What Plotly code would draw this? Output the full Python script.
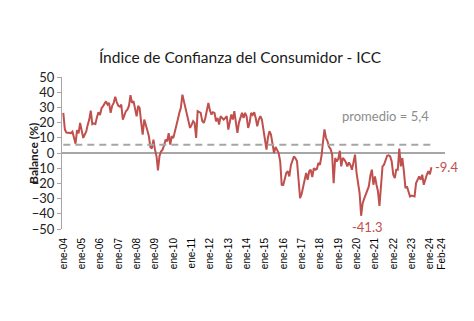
import plotly.graph_objects as go
import pandas as pd

# Monthly ICC balance (%), Jan 2004 - Feb 2024
icc = [
    # 2004
    26.4, 15.5, 13.5, 13.2, 13.0, 13.1, 14.0, 10.5, 6.1, 15.0, 13.0, 19.8,
    # 2005
    14.5, 9.9, 12.0, 14.0, 18.5, 22.0, 27.9, 19.0, 19.5, 19.0, 23.5, 26.8,
    # 2006
    25.0, 29.5, 30.7, 32.0, 34.0, 31.8, 33.0, 26.4, 31.0, 33.0, 37.0, 33.5,
    # 2007
    31.0, 30.5, 31.8, 22.0, 25.0, 27.5, 28.5, 31.0, 38.0, 33.0, 34.0, 30.0,
    # 2008
    24.1, 31.0, 29.5, 20.0, 12.1, 22.0, 19.0, 15.0, 11.0, 4.0, 3.0, 8.8,
    # 2009
    2.2, -2.2, -11.4, -2.0, 1.0, 2.2, 5.0, 8.8, 7.7, 13.0, 5.5, 11.0,
    # 2010
    9.9, 13.5, 17.6, 22.0, 26.4, 29.7, 38.4, 34.0, 30.0, 26.4, 20.0, 16.5,
    # 2011
    18.5, 20.9, 19.8, 9.9, 27.5, 27.0, 26.4, 21.0, 19.8, 23.0, 28.6, 33.0,
    # 2012
    28.0, 25.3, 26.8, 26.4, 20.9, 23.0, 18.7, 24.2, 23.0, 22.0, 23.0, 24.2,
    # 2013
    15.4, 20.0, 25.3, 22.0, 27.5, 20.0, 13.2, 20.0, 24.2, 26.4, 23.0, 26.4,
    # 2014
    24.0, 16.5, 19.8, 26.4, 25.0, 26.8, 23.0, 17.6, 22.0, 24.2, 22.0, 15.4,
    # 2015
    10.0, 2.2, 10.0, 14.3, 12.1, 6.0, 0.0, 4.0, 1.5, 0.0, -5.5, -20.9,
    # 2016
    -21.0, -17.0, -13.2, -12.0, -15.4, -8.0, -5.5, -2.2, -3.5, -5.5, -17.6, -29.7,
    # 2017
    -27.0, -22.0, -17.6, -13.2, -17.6, -12.0, -11.0, -15.8, -9.9, -11.0, -10.5, -6.6,
    # 2018
    -7.7, -2.0, 6.6, 15.5, 10.0, 7.7, 4.0, 2.6, -1.1, -19.8, -3.3, -5.5,
    # 2019
    -4.0, 1.5, -8.8, -3.3, -4.4, -6.0, -8.8, -6.2, -8.0, -11.0, -6.0, -1.1,
    # 2020
    -13.2, -20.0, -26.4, -41.3, -33.0, -30.0, -27.5, -25.0, -22.0, -15.0, -11.0, -20.9,
    # 2021
    -15.4, -20.9, -25.0, -34.8, -22.0, -8.8, -7.7, -4.0, -1.8, -1.5, -2.2, -5.5,
    # 2022
    -14.3, -16.5, -11.0, -11.0, 2.9, -8.8, -3.3, -12.1, -23.1, -22.0, -25.3, -28.6,
    # 2023
    -28.0, -28.6, -28.6, -19.8, -17.6, -15.4, -17.6, -14.3, -20.9, -17.0, -14.3, -12.0,
    # 2024
    -14.0, -9.4,
]
dates = pd.date_range("2004-01-01", periods=len(icc), freq="MS")

promedio = 5.4
tick_vals = [f"{y}-01-01" for y in range(2004, 2025)] + ["2024-09-01"]
tick_text = [f"ene-{y % 100:02d}" for y in range(2004, 2025)] + ["Feb-24"]

min_idx = icc.index(min(icc))

RED = "#C0504D"
GREY = "#A6A6A6"

fig = go.Figure()
fig.add_trace(go.Scatter(
    x=dates, y=icc, mode="lines",
    line=dict(color=RED, width=2), hoverinfo="skip", showlegend=False,
))

fig.add_shape(type="line", xref="x", yref="y",
              x0=dates[0], x1=dates[-1], y0=promedio, y1=promedio,
              line=dict(color=GREY, width=2, dash="7px,5px"))

fig.add_annotation(x=dates[-1], y=icc[-1], xref="x", yref="y",
                   text=f"{icc[-1]:.1f}", showarrow=False, xanchor="left",
                   xshift=2, font=dict(family="Lato", size=13, color=RED))
fig.add_annotation(x=dates[min_idx], y=icc[min_idx], xref="x", yref="y",
                   text=f"{icc[min_idx]:.1f}", showarrow=False, yanchor="top",
                   xshift=6, yshift=-1, font=dict(family="Lato", size=13, color=RED))
fig.add_annotation(x="2021-08-01", y=24.6, xref="x", yref="y",
                   text=f"promedio = {str(promedio).replace('.', ',')}",
                   showarrow=False, xanchor="center", yanchor="middle",
                   font=dict(family="Lato", size=13, color="#8C8C8C"))
fig.add_annotation(x=-0.076, y=0.5, xref="paper", yref="paper",
                   text="<b>Balance (%)</b>", textangle=-90, showarrow=False,
                   xanchor="center", yanchor="middle",
                   font=dict(family="Lato", size=12, color="#1a1a1a"))

fig.update_layout(
    width=474, height=321,
    margin=dict(l=62, r=29, t=77, b=92),
    paper_bgcolor="white", plot_bgcolor="white",
    title=dict(text="Índice de Confianza del Consumidor - ICC",
               x=240 / 474, xref="container", xanchor="center",
               y=1 - 58 / 321, yref="container", yanchor="middle",
               font=dict(family="Lato", size=15.5, color="#1a1a1a")),
    showlegend=False,
)
fig.update_xaxes(
    range=["2003-12-06", "2024-10-28"],
    tickmode="array", tickvals=tick_vals, ticktext=tick_text,
    tickangle=-90, ticks="", ticklabelstandoff=6,
    tickfont=dict(family="Liberation Sans", size=10, color="#000"),
    showgrid=False, showline=False, zeroline=False,
)
fig.update_yaxes(
    range=[-50, 50], dtick=10, tick0=0,
    ticks="outside", ticklen=4, tickcolor=GREY, tickwidth=1,
    showline=True, linecolor=GREY, linewidth=1,
    showgrid=False, zeroline=True, zerolinecolor=GREY, zerolinewidth=1.5,
    tickfont=dict(family="Lato", size=13, color="#222"),
)

fig.write_html("out.html")
